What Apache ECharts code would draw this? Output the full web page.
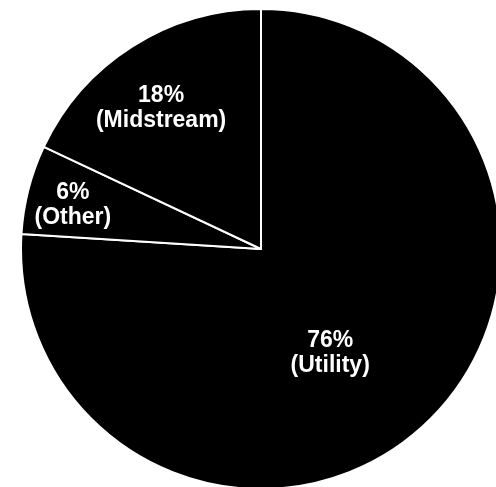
<!DOCTYPE html>
<html>
<head>
<meta charset="utf-8">
<script src="https://cdn.jsdelivr.net/npm/echarts@6/dist/echarts.min.js"></script>
<style>
  html, body { margin: 0; padding: 0; background: #fff; }
  #chart { width: 496px; height: 487px; }
</style>
</head>
<body>
<div id="chart"></div>
<script>
// slice names and shares (%), clockwise from 12 o'clock
const categories = ['Utility', 'Other', 'Midstream'];
const shares = [76, 6, 18];

// label nudges away from the default inside spot
const labelOffsets = [[-15, 14], [-69, -13], [-34, -37]];

const chart = echarts.init(document.getElementById('chart'));

const option = {
  backgroundColor: '#ffffff',
  animation: false,
  series: [{
    type: 'pie',
    center: [261, 249],
    radius: 240,
    startAngle: 90,
    clockwise: true,
    percentPrecision: 0,
    itemStyle: {
      color: '#000000',
      borderColor: '#ffffff',
      borderWidth: 2
    },
    label: {
      show: true,
      position: 'inside',
      formatter: '{d}%\n({b})',
      color: '#ffffff',
      fontFamily: 'Liberation Sans, Arial, sans-serif',
      fontWeight: 'bold',
      fontSize: 23,
      lineHeight: 25,
      align: 'center'
    },
    labelLine: { show: false },
    emphasis: { disabled: true },
    data: categories.map((name, i) => ({
      name: name,
      value: shares[i],
      label: { offset: labelOffsets[i] }
    }))
  }]
};

chart.setOption(option);
</script>
</body>
</html>
